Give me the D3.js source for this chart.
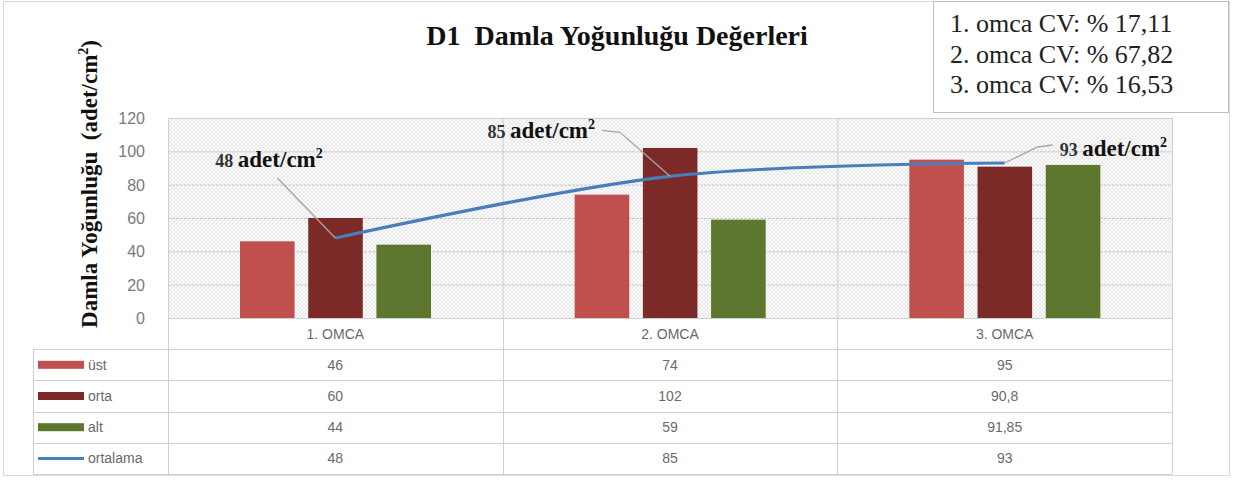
<!DOCTYPE html>
<meta charset='utf-8'>
<style>
body { margin: 0; background: #fff; }
svg text { font-family: 'Liberation Sans', sans-serif; white-space: pre; }
.serif { font-family: 'Liberation Serif', 'Times New Roman', serif; }
.tick text { fill: #7a7a7a; font-size: 16px; }
.grid line { stroke: #c8c8c8; stroke-dasharray: 3 1; }
.grid .domain { stroke: none; }
.tbl line { stroke: #cfcfcf; }
.tbl text { fill: #6a6a6a; font-size: 14px; }
</style>
<body>
<script src='https://d3js.org/d3.v7.min.js'></script>
<script>
'use strict'

// Data
let categories = ['1. OMCA', '2. OMCA', '3. OMCA'],
	series = ['üst', 'orta', 'alt'],
	ust = [46, 74, 95],
	orta = [60, 102, 90.8],
	alt = [44, 59, 91.85],
	ortalama = [48, 85, 93],
	tableText = {
		'üst': ['46', '74', '95'],
		'orta': ['60', '102', '90,8'],
		'alt': ['44', '59', '91,85'],
		'ortalama': ['48', '85', '93'] },
	yTicks = [0, 20, 40, 60, 80, 100, 120],
	cvLines = ['1. omca CV: % 17,11', '2. omca CV: % 67,82', '3. omca CV: % 16,53'],
	title = 'D1  Damla Yoğunluğu Değerleri'

let values = {'üst': ust, 'orta': orta, 'alt': alt},
	colors = {'üst': '#c0504d', 'orta': '#7b2a28', 'alt': '#5e772e', 'ortalama': '#4a7ebb'}

// Layout
let W = 1241, H = 481,
	plot = {left: 168, right: 1172, top: 118, bottom: 318},
	rowH = 31.2

let svg = d3.select('body').append('svg').attr('width', W).attr('height', H)

let defs = svg.append('defs')
defs.append('pattern').attr('id', 'hatch').attr('patternUnits', 'userSpaceOnUse')
	.attr('width', 4).attr('height', 4)
	.call(p => {
		p.append('rect').attr('width', 4).attr('height', 4).attr('fill', '#fbfbfb')
		p.append('path').attr('d', 'M0,4 L4,0 M0,0 L4,4')
			.attr('stroke', '#e2e2e2').attr('stroke-width', 0.7) })

// outer frame
svg.append('rect').attr('x', 3.5).attr('y', 1.5).attr('width', 1226).attr('height', 474)
	.attr('fill', '#fff').attr('stroke', '#d9d9d9')

let x = d3.scaleBand().domain(categories).range([plot.left, plot.right]),
	xs = d3.scaleBand().domain(series).range([72, 263]).paddingInner(0.2),
	y = d3.scaleLinear().domain([0, 120]).range([plot.bottom, plot.top])

svg.append('rect').attr('x', plot.left).attr('y', plot.top)
	.attr('width', plot.right - plot.left).attr('height', plot.bottom - plot.top)
	.attr('fill', 'url(#hatch)')

// grid
svg.append('g').attr('class', 'grid').attr('transform', `translate(${plot.left},0)`)
	.call(d3.axisLeft(y).tickValues(yTicks).tickSize(-(plot.right - plot.left)).tickFormat(''))
svg.append('g').attr('class', 'tbl')
	.selectAll('line').data(categories.slice(1)).join('line')
	.attr('x1', d => x(d) + 0.5).attr('x2', d => x(d) + 0.5)
	.attr('y1', plot.top).attr('y2', plot.bottom)
	.attr('stroke', '#d4d4d4')

// y axis labels
svg.append('g').attr('transform', `translate(${plot.left - 20},0)`)
	.call(d3.axisLeft(y).tickValues(yTicks).tickSize(0))
	.call(g => g.select('.domain').remove())
	.call(g => g.selectAll('text').attr('dy', '0.35em'))

// bars
svg.append('g').selectAll('g').data(series).join('g')
	.attr('fill', d => colors[d])
	.selectAll('rect').data(s => values[s].map((v, i) => ({s, v, c: categories[i]}))).join('rect')
	.attr('x', d => x(d.c) + xs(d.s)).attr('width', xs.bandwidth())
	.attr('y', d => y(d.v)).attr('height', d => y(0) - y(d.v))

// axis line
svg.append('line').attr('x1', plot.left).attr('x2', plot.right)
	.attr('y1', plot.bottom + 0.5).attr('y2', plot.bottom + 0.5).attr('stroke', '#cfcfcf')

// average line
let pts = ortalama.map((v, i) => [x(categories[i]) + x.bandwidth() / 2, y(v)])
svg.append('path').datum(pts)
	.attr('d', d3.line().curve(d3.curveCatmullRom))
	.attr('fill', 'none').attr('stroke', colors.ortalama).attr('stroke-width', 3.2)

// annotations: leader line offsets and label anchors relative to the point
let notes = [
	{i: 0, leg: [[-58, -60]], lx: -120, ly: -71, anchor: 'start'},
	{i: 1, leg: [[-50, -44], [-68, -46]], lx: -75, ly: -38, anchor: 'end'},
	{i: 2, leg: [[33, -16], [48, -18]], lx: 55, ly: -7, anchor: 'start'}]

notes.forEach(n => {
	let [px, py] = pts[n.i]
	svg.append('polyline')
		.attr('points', [[px, py]].concat(n.leg.map(([dx, dy]) => [px + dx, py + dy])).join(' '))
		.attr('fill', 'none').attr('stroke', '#a6a6a6').attr('stroke-width', 1.3)
	let t = svg.append('text').attr('class', 'serif')
		.attr('x', px + n.lx).attr('y', py + n.ly)
		.attr('text-anchor', n.anchor).attr('font-weight', 'bold').attr('fill', '#111')
	t.append('tspan').attr('font-size', 18).attr('fill', '#333').text(ortalama[n.i] + ' ')
	t.append('tspan').attr('font-size', 23).text('adet/cm')
	t.append('tspan').attr('font-size', 14).attr('dy', -9).text('2')
})

// title
svg.append('text').attr('class', 'serif').attr('x', 617).attr('y', 45)
	.attr('text-anchor', 'middle').attr('font-size', 28).attr('font-weight', 'bold')
	.attr('fill', '#111').text(title)

// y axis title
svg.append('text').attr('class', 'serif')
	.attr('transform', 'translate(97,184) rotate(-90)')
	.attr('text-anchor', 'middle').attr('font-size', 23).attr('font-weight', 'bold').attr('fill', '#111')
	.call(t => {
		t.append('tspan').text('Damla Yoğunluğu  (adet/cm')
		t.append('tspan').attr('font-size', 14).attr('dy', -9).text('2')
		t.append('tspan').attr('dy', 9).text(')') })

// CV box
svg.append('rect').attr('x', 933.5).attr('y', 1.5).attr('width', 295).attr('height', 111)
	.attr('fill', '#fff').attr('stroke', '#bfbfbf')
svg.append('g').selectAll('text').data(cvLines).join('text').attr('class', 'serif')
	.attr('x', 950).attr('y', (d, i) => 32 + i * 30.5)
	.attr('font-size', 26).attr('fill', '#222').text(d => d)

// data table
let tbl = svg.append('g').attr('class', 'tbl'),
	rows = ['üst', 'orta', 'alt', 'ortalama'],
	tTop = plot.bottom,
	edges = categories.map(c => x(c)).concat([plot.right])

tbl.selectAll('.v').data(edges).join('line')
	.attr('x1', d => Math.round(d) + 0.5).attr('x2', d => Math.round(d) + 0.5)
	.attr('y1', d => d === plot.left ? plot.top : tTop).attr('y2', tTop + rowH * 5)
tbl.append('line').attr('x1', plot.right + 0.5).attr('x2', plot.right + 0.5)
	.attr('y1', plot.top).attr('y2', plot.bottom)
tbl.append('line').attr('x1', plot.left).attr('x2', plot.right)
	.attr('y1', plot.top + 0.5).attr('y2', plot.top + 0.5)
tbl.append('line').attr('x1', 33.5).attr('x2', 33.5)
	.attr('y1', tTop + rowH).attr('y2', tTop + rowH * 5)
tbl.selectAll('.h').data(d3.range(1, 6)).join('line')
	.attr('x1', 33).attr('x2', plot.right)
	.attr('y1', d => Math.round(tTop + rowH * d) + 0.5).attr('y2', d => Math.round(tTop + rowH * d) + 0.5)

tbl.selectAll('.cat').data(categories).join('text')
	.attr('x', d => x(d) + x.bandwidth() / 2).attr('y', tTop + rowH / 2 + 5)
	.attr('text-anchor', 'middle').text(d => d)

rows.forEach((r, ri) => {
	let cy = tTop + rowH * (ri + 1) + rowH / 2
	if (r === 'ortalama')
		tbl.append('line').attr('x1', 38).attr('x2', 84).attr('y1', cy).attr('y2', cy)
			.style('stroke', colors[r]).attr('stroke-width', 3)
	else
		tbl.append('rect').attr('x', 38).attr('y', cy - 4).attr('width', 46).attr('height', 8)
			.attr('fill', colors[r])
	tbl.append('text').attr('x', 88).attr('y', cy + 5).text(r)
	tbl.selectAll(null).data(tableText[r]).join('text')
		.attr('x', (d, i) => x(categories[i]) + x.bandwidth() / 2).attr('y', cy + 5)
		.attr('text-anchor', 'middle').text(d => d)
})
</script>
</body>
